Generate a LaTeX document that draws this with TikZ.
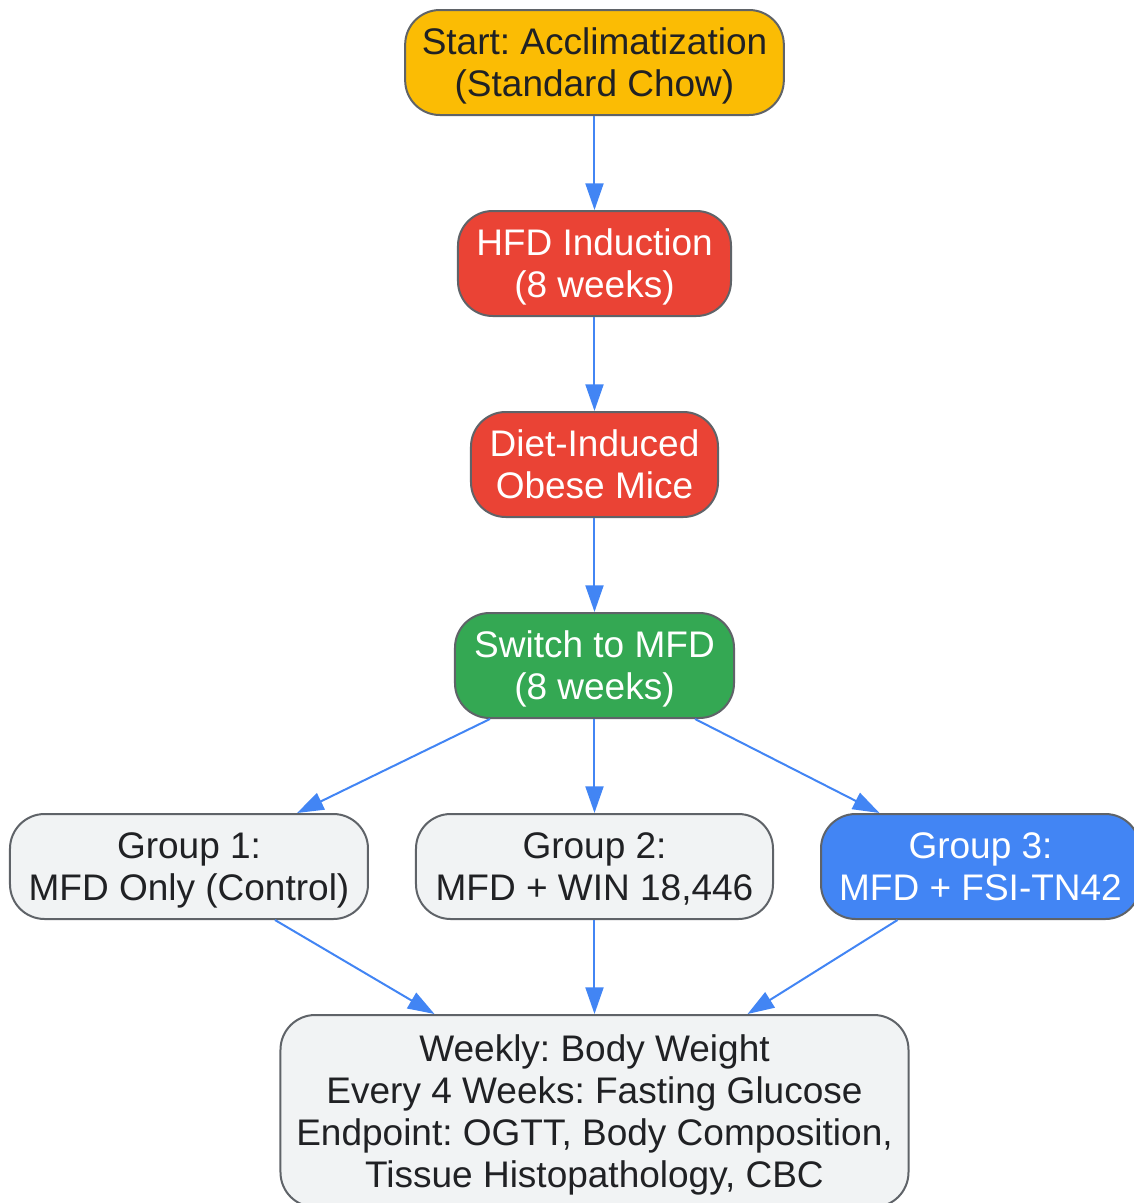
\documentclass[tikz,border=0pt]{standalone}
\usepackage{fontspec}
\setmainfont{Liberation Sans}
\usepackage{xcolor}
\usetikzlibrary{positioning,arrows.meta}
\frenchspacing
\definecolor{gyellow}{HTML}{FBBC04}
\definecolor{gred}{HTML}{EA4335}
\definecolor{ggreen}{HTML}{34A853}
\definecolor{gblue}{HTML}{4285F4}
\definecolor{ggray}{HTML}{F1F3F4}
\definecolor{gborder}{HTML}{5F6368}
\definecolor{gtext}{HTML}{202124}
\tikzset{>={Triangle[length=20pt,width=13.5pt]}}
\tikzset{
  stage/.style={draw=gborder, line width=1.5pt, rounded corners=26pt,
    align=center, inner xsep=8pt, inner ysep=0pt, minimum height=78.75pt,
    font=\fontsize{27.75}{31.5}\selectfont, text=gtext, text depth=-9pt},
  flow/.style={->, draw=gblue, line width=1.5pt}
}

\begin{document}
\begin{tikzpicture}
      \clip (-445.875pt,-855.375pt) rectangle (404.625pt,46.875pt);

      \node [stage, fill=gyellow, minimum width=284pt
      ] (start) at (0,0) {Start: Acclimatization\\(Standard Chow)};

      \node [stage, fill=gred, text=white, minimum width=204.75pt,
        below=70.5pt of start
      ] (hfd) {HFD Induction\\(8 weeks)};

      \node [stage, fill=gred, text=white, minimum width=185.25pt,
        below=70.5pt of hfd
      ] (obese) {Diet-Induced\\Obese Mice};

      \node [stage, fill=ggreen, text=white, minimum width=209.25pt,
        below=70.5pt of obese
      ] (switch) {Switch to MFD\\(8 weeks)};

      \node [stage, fill=ggray, minimum width=267.75pt,
        below=70.5pt of switch
      ] (grptwo) {Group 2:\\MFD + WIN 18,446};

      \node [stage, fill=ggray, minimum width=268.5pt,
        left=34.5pt of grptwo
      ] (grpone) {Group 1:\\MFD Only (Control)};

      \node [stage, fill=gblue, text=white, minimum width=239.25pt,
        right=34.5pt of grptwo
      ] (grpthree) {Group 3:\\MFD + FSI-TN42};

      \node [stage, fill=ggray, minimum height=144pt, minimum width=471pt,
        below=70.5pt of grptwo
      ] (measure) {Weekly: Body Weight\\Every 4 Weeks: Fasting Glucose\\Endpoint: OGTT, Body Composition,\\Tissue Histopathology, CBC};

      \draw[flow] (start) -- (hfd);
      \draw[flow] (hfd) -- (obese);
      \draw[flow] (obese) -- (switch);
      \draw[flow] ([xshift=-78.4pt]switch.south) -- ([xshift=81pt]grpone.north);
      \draw[flow] (switch) -- (grptwo);
      \draw[flow] ([xshift=75.4pt]switch.south) -- ([xshift=-75.75pt]grpthree.north);
      \draw[flow] ([xshift=64.5pt]grpone.south) -- ([xshift=-120pt]measure.north);
      \draw[flow] (grptwo) -- (measure);
      \draw[flow] ([xshift=-62.25pt]grpthree.south) -- ([xshift=114.75pt]measure.north);
    \end{tikzpicture}
\end{document}
